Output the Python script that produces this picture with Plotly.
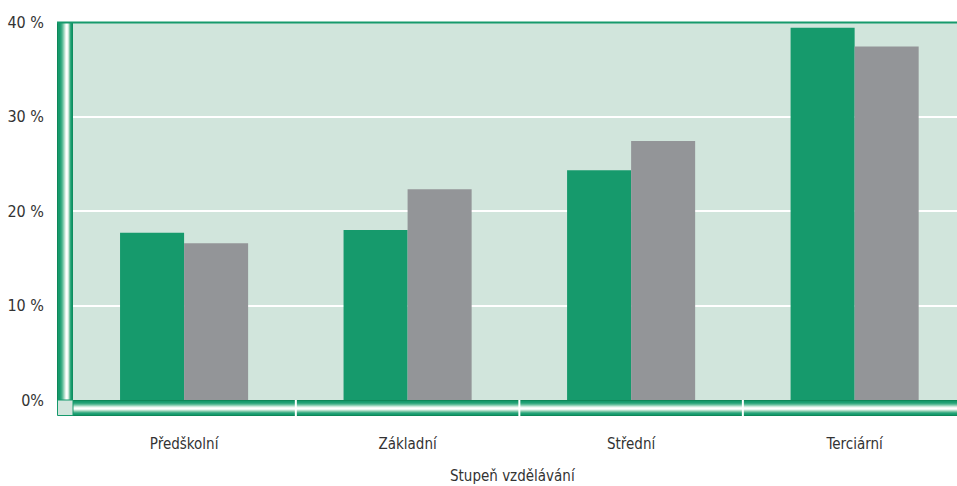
import plotly.graph_objects as go

categories = ["Předškolní", "Základní", "Střední", "Terciární"]
series_green = [17.7, 18.0, 24.3, 39.4]
series_gray = [16.6, 22.3, 27.4, 37.4]
y_tickvals = [0, 10, 20, 30, 40]
y_ticktext = ["0%", "10 %", "20 %", "30 %", "40 %"]
x_title = "Stupeň vzdělávání"

W, H = 957, 486
PLOT_L, PLOT_T, PLOT_B = 73, 22, 400   # page pixel coords of plot area
L = PLOT_L
T = PLOT_T
B = H - PLOT_B
R = 0
PW = W - L - R
PH = H - T - B

def px(x):
    return (x - PLOT_L) / PW

def py(y):
    return (PLOT_B - y) / PH

GREEN = "#169a6c"
GRAY = "#939598"
BG = "#d1e5dc"
FONT = "DejaVu Sans Condensed, Liberation Sans Narrow, sans-serif"

fig = go.Figure()
fig.add_bar(x=categories, y=series_green, marker=dict(color=GREEN, line=dict(width=0)), name="A")
fig.add_bar(x=categories, y=series_gray, marker=dict(color=GRAY, line=dict(width=0)), name="B")

shapes = []
# left wall stripes (vertical)
wall_cols = ["#0d8758", "#169a6c", "#169a6c", "#23a176", "#3aac83", "#5cbb98", "#88ceb2",
             "#b7e0ce", "#e4f3ec", "#ffffff", "#f4faf7", "#c8e7d8", "#7cc7a7", "#33a97e", "#169a6c", "#0f8d5f"]
for i, c in enumerate(wall_cols):
    shapes.append(dict(type="rect", xref="paper", yref="paper",
                       x0=px(57 + i), x1=px(58 + i), y0=py(400), y1=py(22),
                       fillcolor=c, line=dict(width=0), layer="above"))
# floor stripes (horizontal)
floor_cols = ["#0d8758", "#169a6c", "#1f9f73", "#36aa81", "#5ebc99", "#92d2b8", "#c9e9db", "#f0f9f5",
              "#ffffff", "#e8f5ef", "#b4dfcb", "#7cc7a7", "#45b189", "#23a176", "#169a6c", "#0d8758"]
for i, c in enumerate(floor_cols):
    shapes.append(dict(type="rect", xref="paper", yref="paper",
                       x0=px(73), x1=px(960), y0=py(400 + i), y1=py(401 + i),
                       fillcolor=c, line=dict(width=0), layer="above"))
# corner square
shapes.append(dict(type="rect", xref="paper", yref="paper",
                   x0=px(57.5), x1=px(73), y0=py(415.5), y1=py(400),
                   fillcolor=BG, line=dict(color=GREEN, width=1), layer="above"))
# top green line
shapes.append(dict(type="line", xref="paper", yref="paper",
                   x0=px(57), x1=px(960), y0=py(22.5), y1=py(22.5),
                   line=dict(color=GREEN, width=2), layer="above"))
# floor dividers
for xv in [0.5, 1.5, 2.5]:
    shapes.append(dict(type="line", xref="x", yref="paper",
                       x0=xv, x1=xv, y0=py(400), y1=py(416),
                       line=dict(color="white", width=2), layer="above"))

fig.update_layout(
    width=W, height=H,
    margin=dict(l=L, r=R, t=T, b=B, pad=0),
    paper_bgcolor="white",
    plot_bgcolor=BG,
    barmode="group",
    bargap=0.427,
    bargroupgap=0,
    showlegend=False,
    hovermode=False,
    font=dict(family=FONT, size=15, color="#333333"),
    shapes=shapes,
    annotations=[dict(text=x_title, xref="paper", yref="paper",
                      x=px(513), y=py(476), xanchor="center", yanchor="middle",
                      showarrow=False, font=dict(family=FONT, size=15, color="#333333"))],
)
fig.update_xaxes(range=[-0.497, 3.458], showgrid=False, zeroline=False, showline=False,
                 ticks="", ticklabelstandoff=33, tickfont=dict(size=15))
fig.update_yaxes(range=[0, 40], tickvals=y_tickvals, ticktext=y_ticktext,
                 showgrid=True, gridcolor="white", gridwidth=2, zeroline=False, showline=False,
                 ticks="", ticklabelstandoff=28, tickfont=dict(size=16))

fig.write_html("out.html",
               config={"displayModeBar": False},
               post_script="document.body.style.margin='0px';document.body.style.overflow='hidden';")
